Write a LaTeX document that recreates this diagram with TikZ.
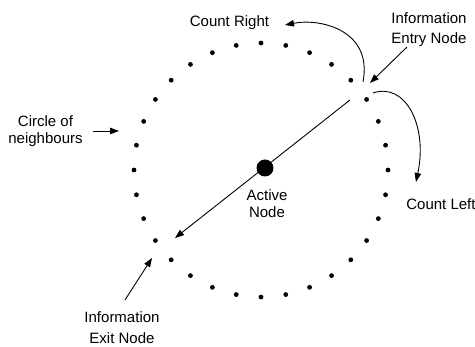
\documentclass[tikz,border=0pt]{standalone}
\usepackage{fontspec}
\setmainfont{Liberation Sans}
\usetikzlibrary{arrows.meta}
\begin{document}
\begin{tikzpicture}[x=1pt,y=-1pt,
  dot/.style={circle,fill=black,inner sep=0pt,minimum size=4.8pt},
  bigdot/.style={circle,fill=black,inner sep=0pt,minimum size=17pt},
  lbl/.style={inner sep=0pt,align=center,font=\fontsize{15}{20.5}\selectfont},
  lbls/.style={inner sep=0pt,align=center,font=\fontsize{15}{17.5}\selectfont},
  conn/.style={line width=0.9pt,-{Triangle[length=9pt,width=6.5pt]}}
]
\useasboundingbox (0,0) rectangle (475,347);
% circle of neighbours
\foreach \i in {0,...,31} {
  \node[dot] (d\i) at ({261+127*cos(\i*11.25)},{170-127*sin(\i*11.25)}) {};
}
% active node
\node[bigdot] (active) at (265,168) {};
\node[lbls] (activelbl) at (267,203.7) {Active\\Node};
% labels
\node[lbl] (entrylbl) at (429,29.6) {Information\\Entry Node};
\node[lbl] (exitlbl) at (122,327.5) {Information\\Exit Node};
\node[lbls] (circlelbl) at (45.5,131) {Circle of\\neighbours};
\node[lbl] (crlbl) at (229.5,22.4) {Count Right};
\node[lbl] (cllbl) at (441,204) {Count Left};
% connector end points
\coordinate (mainstart) at (350,100);
\coordinate (mainend) at (175,238);
\coordinate (crstart) at (363,82);
\coordinate (crend) at (285,25);
\coordinate (clstart) at (373,93);
\coordinate (clend) at (416,182);
\coordinate (entrystart) at (407,47);
\coordinate (entrytip) at (370,83);
\coordinate (exitstart) at (125,300);
\coordinate (exittip) at (152,258);
\coordinate (circlestart) at (93,131);
\coordinate (circletip) at (119,131);
% connectors
\draw[conn] (mainstart) -- (mainend);
\draw[conn] (crstart) .. controls (373,30) and (320,18) .. (crend);
\draw[conn] (clstart) .. controls (405,82) and (428,125) .. (clend);
\draw[conn] (entrystart) -- (entrytip);
\draw[conn] (exitstart) -- (exittip);
\draw[conn] (circlestart) -- (circletip);
\end{tikzpicture}
\end{document}
